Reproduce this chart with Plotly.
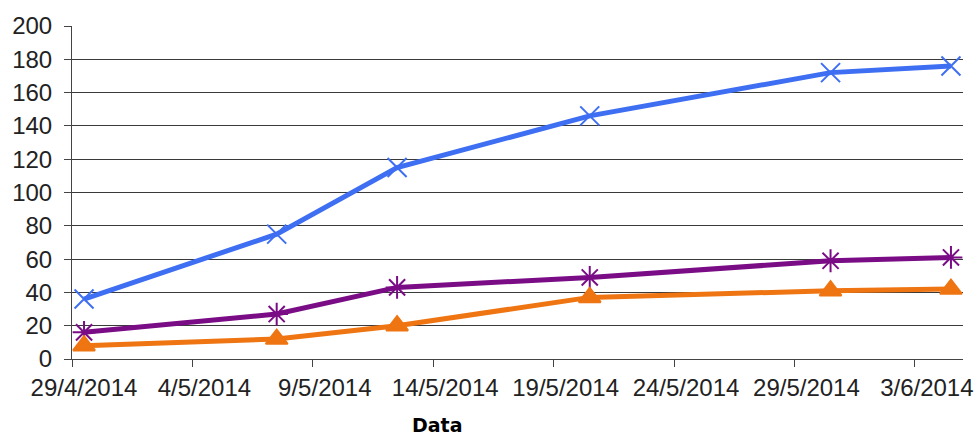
import pandas as pd
import plotly.graph_objects as go

dates = ["2014-04-29", "2014-05-07", "2014-05-12", "2014-05-20", "2014-05-30", "2014-06-04"]
blue_vals = [36, 75, 115, 146, 172, 176]
purple_vals = [16, 27, 43, 49, 59, 61]
orange_vals = [8, 12, 20, 37, 41, 42]
tick_dates = ["2014-04-29", "2014-05-04", "2014-05-09", "2014-05-14", "2014-05-19", "2014-05-24", "2014-05-29", "2014-06-03"]
tick_text = ["29/4/2014", "4/5/2014", "9/5/2014", "14/5/2014", "19/5/2014", "24/5/2014", "29/5/2014", "3/6/2014"]
y_ticks = list(range(0, 201, 20))

# points are drawn at mid-day (date axis in day units)
x = pd.to_datetime(dates) + pd.Timedelta(hours=12)

fig = go.Figure()
series = [
    (blue_vals, "#3E6EF2", "x-thin-open", 19),
    (purple_vals, "#7A0C86", "asterisk-open", 19),
    (orange_vals, "#EE7512", "triangle-up", 19),
]
for vals, col, sym, sz in series:
    fig.add_trace(go.Scatter(
        x=x, y=vals, mode="lines+markers",
        line=dict(color=col, width=5),
        marker=dict(symbol=sym, size=sz, color=col, line=dict(color=col, width=2)),
        showlegend=False,
    ))

font = "Liberation Sans, Arial, sans-serif"
fig.update_layout(
    width=977, height=437,
    margin=dict(l=72, r=14, t=26, b=78, autoexpand=False),
    paper_bgcolor="white", plot_bgcolor="white",
    font=dict(family=font, size=24, color="#222"),
    xaxis=dict(
        type="date", automargin=False,
        range=[pd.Timestamp("2014-04-29"), pd.Timestamp("2014-06-05")],
        tickvals=pd.to_datetime(tick_dates), ticktext=tick_text,
        ticks="outside", ticklen=7, tickcolor="#444", tickwidth=1,
        showline=True, linecolor="#444", linewidth=1,
        showgrid=False, zeroline=False,
        ticklabelshift=12,
        tickfont=dict(size=24, family=font, color="#222"),
    ),
    yaxis=dict(
        automargin=False,
        range=[0, 200], tickvals=y_ticks,
        ticks="outside", ticklen=7, tickcolor="#444", tickwidth=1,
        showline=True, linecolor="#444", linewidth=1,
        showgrid=True, gridcolor="#3a3a3a", gridwidth=1,
        zeroline=False,
        ticklabelstandoff=7,
        tickfont=dict(size=24, family=font, color="#222"),
    ),
    annotations=[dict(
        text="<b>Data</b>", xref="paper", yref="paper",
        x=(437 - 72) / (963 - 72), y=-(425 - 359) / (359 - 26),
        xanchor="center", yanchor="middle", showarrow=False,
        font=dict(family="DejaVu Sans, Verdana, sans-serif", size=19, color="black"),
    )],
)

fig.write_html("out.html")
